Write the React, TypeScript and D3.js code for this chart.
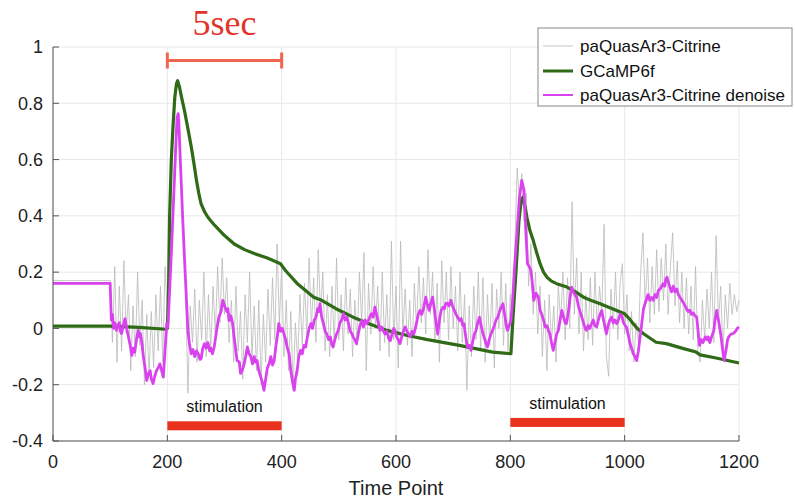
import React from "react";
import * as d3 from "d3";

const xTicks = [0, 200, 400, 600, 800, 1000, 1200];
const yTicks = [-0.4, -0.2, 0, 0.2, 0.4, 0.6, 0.8, 1];
const yTickLabels = ["-0.4", "-0.2", "0", "0.2", "0.4", "0.6", "0.8", "1"];

const legendNames = ["paQuasAr3-Citrine", "GCaMP6f", "paQuasAr3-Citrine denoise"];

// raw trace, one value every 4 time points from t = 0
const GRAY_STEP = 4;
const grayValues = [
  0.17, 0.17, 0.17, 0.17, 0.17, 0.17, 0.17, 0.17, 0.17, 0.17, 0.17, 0.17, 0.17, 0.17, 0.17, 0.17, 0.17, 0.17, 0.17, 0.17, 0.17, 0.17, 0.17, 0.17, 0.17,
  0.17, -0.05, 0.22, -0.12, 0.15, -0.08, 0.24, -0.02, 0.12, -0.15, 0.08, -0.1, 0.2, -0.06, 0.1, -0.2, 0.05, -0.17, 0.06, -0.14, 0.12, -0.08, 0.15, -0.12, 0.22,
  0.05, 0.3, 0.35, 0.55, 0.72, 0.7, 0.5, 0.32, 0.15, -0.23, 0.08, -0.05, 0.14, -0.12, 0.1, -0.04, 0.2, -0.1, 0.12, -0.08, 0.15, -0.02, 0.22, 0.02, 0.25,
  0.05, 0.18, -0.05, 0.1, -0.12, 0.15, -0.08, 0.06, -0.18, 0.12, -0.05, 0.2, -0.1, 0.08, -0.15, 0.1, -0.2, 0.05, -0.12, 0.14, -0.06, 0.18, -0.04, 0.3, 0.02,
  0.22, -0.1, 0.1, -0.15, 0.06, -0.22, 0.02, -0.12, 0.12, -0.06, 0.16, -0.02, 0.25, 0.0, 0.18, -0.05, 0.28, 0.05, 0.2, -0.08, 0.12, -0.1, 0.15, -0.06, 0.25,
  -0.04, 0.12, -0.08, 0.18, -0.02, 0.14, -0.1, 0.1, -0.06, 0.2, 0.02, 0.27, -0.15, 0.16, -0.02, 0.22, 0.0, 0.15, -0.08, 0.2, -0.05, 0.12, -0.1, 0.31, -0.04,
  0.15, -0.14, 0.31, -0.02, 0.14, -0.06, 0.1, -0.1, 0.16, 0.0, 0.22, 0.02, 0.18, -0.02, 0.28, 0.05, 0.2, -0.05, 0.16, -0.12, 0.24, 0.02, 0.2, -0.04, 0.22,
  0.0, 0.15, -0.08, 0.2, -0.05, 0.12, -0.22, 0.08, -0.1, 0.15, -0.04, 0.2, -0.08, 0.18, -0.12, 0.12, -0.06, 0.16, -0.14, 0.14, 0.0, 0.2, -0.06, 0.16, -0.08,
  0.12, 0.02, 0.3, 0.57, 0.45, 0.55, 0.38, 0.48, 0.15, 0.3, 0.05, 0.2, -0.02, 0.15, -0.1, 0.1, -0.15, 0.12, -0.05, 0.08, -0.12, 0.15, 0.02, 0.2, -0.04,
  0.18, 0.0, 0.45, 0.05, 0.25, -0.02, 0.2, -0.08, 0.12, -0.04, 0.18, -0.06, 0.2, 0.0, 0.15, 0.05, 0.37, -0.1, -0.17, 0.14, 0.0, 0.2, -0.04, 0.16, 0.23,
  -0.02, 0.12, -0.08, 0.06, -0.12, 0.02, -0.05, 0.2, 0.34, 0.08, 0.25, 0.02, 0.22, 0.05, 0.28, 0.06, 0.25, 0.1, 0.3, 0.05, 0.22, 0.34, 0.08, 0.24, 0.02,
  0.2, 0.0, 0.18, -0.02, 0.15, -0.04, 0.22, -0.08, -0.12, 0.1, -0.04, 0.14, 0.0, 0.2, -0.05, 0.33, 0.02, 0.15, -0.1, 0.12, 0.0, 0.16, 0.05, 0.12, 0.06, 0.1,
];

const gcampTrace: [number, number][] = [
  [0, 0.008], [100, 0.008], [150, 0.004], [198, -0.003], [200, 0.0], [202, 0.12], [204, 0.4], [207, 0.6],
  [210, 0.72], [213, 0.82], [216, 0.87], [218, 0.88], [221, 0.86], [225, 0.82], [230, 0.774], [236, 0.71],
  [242, 0.644], [247, 0.58], [251, 0.526], [255, 0.48], [259, 0.443], [265, 0.415], [271, 0.395], [277, 0.38],
  [283, 0.366], [300, 0.33], [317, 0.3], [335, 0.28], [352, 0.266], [375, 0.25], [398, 0.23], [407, 0.205],
  [427, 0.16], [456, 0.111], [470, 0.1], [495, 0.07], [525, 0.04], [555, 0.015], [584, -0.007], [620, -0.025],
  [655, -0.04], [711, -0.06], [769, -0.084], [801, -0.09], [805, 0.05], [810, 0.206], [815, 0.38], [819, 0.455],
  [822, 0.466], [826, 0.43], [829, 0.395], [834, 0.35], [840, 0.313], [846, 0.27], [852, 0.23], [858, 0.2],
  [864, 0.182], [872, 0.168], [881, 0.159], [899, 0.147], [914, 0.13], [928, 0.111], [943, 0.098], [957, 0.088],
  [972, 0.075], [986, 0.064], [1000, 0.052], [1008, 0.035], [1015, 0.017], [1022, 0.0], [1033, -0.019],
  [1055, -0.049], [1073, -0.054], [1100, -0.07], [1125, -0.084], [1132, -0.094], [1160, -0.105], [1200, -0.123],
];

const denoiseTrace: [number, number][] = [
  [0, 0.16], [100, 0.16], [102, 0.03], [104, 0.05], [106, 0.0], [108, 0.02], [111, -0.007], [113, 0.01],
  [116, 0.02], [118, -0.01], [120, -0.018], [123, 0.01], [126, 0.035], [129, 0.0], [132, -0.03], [135, -0.06],
  [138, -0.096], [140, -0.07], [143, -0.084], [146, -0.04], [149, -0.007], [151, -0.03], [153, -0.018],
  [156, -0.06], [158, -0.1], [161, -0.14], [164, -0.185], [167, -0.16], [170, -0.15], [172, -0.18], [175, -0.196],
  [178, -0.17], [181, -0.15], [184, -0.14], [187, -0.126], [190, -0.15], [193, -0.173], [196, -0.078],
  [199, 0.017], [201, 0.005], [207, 0.266], [213, 0.56], [217, 0.75], [219, 0.763], [220, 0.74], [223, 0.585],
  [227, 0.384], [231, 0.206], [236, -0.007], [239, -0.06], [242, -0.09], [245, -0.075], [248, -0.1], [251, -0.08],
  [254, -0.09], [257, -0.11], [259, -0.108], [262, -0.07], [265, -0.054], [268, -0.07], [271, -0.05], [274, -0.08],
  [276, -0.07], [279, -0.09], [282, -0.066], [286, -0.01], [290, 0.04], [294, 0.06], [297, 0.1], [299, 0.088],
  [302, 0.07], [304, 0.06], [306, 0.07], [308, 0.028], [311, 0.045], [314, 0.02], [318, -0.05], [322, -0.114],
  [326, -0.12], [328, -0.16], [331, -0.149], [334, -0.13], [337, -0.1], [340, -0.066], [343, -0.09], [346, -0.1],
  [349, -0.126], [352, -0.1], [354, -0.12], [357, -0.114], [360, -0.15], [363, -0.17], [366, -0.19], [369, -0.22],
  [372, -0.18], [375, -0.14], [378, -0.126], [381, -0.1], [384, -0.13], [387, -0.114], [390, -0.06], [393, -0.02],
  [395, 0.017], [398, -0.01], [401, 0.0], [404, -0.019], [407, -0.04], [410, -0.07], [413, -0.09], [416, -0.15],
  [419, -0.19], [422, -0.22], [424, -0.18], [427, -0.15], [430, -0.1], [433, -0.078], [436, -0.09], [439, -0.06],
  [442, -0.066], [445, -0.03], [448, 0.0], [451, 0.017], [454, 0.0], [457, 0.03], [460, 0.04], [463, 0.07],
  [465, 0.06], [467, 0.088], [470, 0.04], [473, 0.017], [476, -0.01], [479, -0.02], [482, -0.04], [485, -0.03],
  [488, -0.06], [490, -0.066], [493, -0.04], [496, -0.02], [499, -0.007], [502, 0.02], [505, 0.03], [508, 0.052],
  [511, 0.03], [514, 0.04], [517, 0.017], [520, -0.01], [523, -0.02], [525, -0.03], [528, -0.04], [531, -0.054],
  [534, -0.02], [537, 0.01], [540, 0.028], [543, 0.005], [546, 0.03], [549, 0.017], [552, 0.03], [555, 0.045],
  [557, 0.052], [560, 0.04], [563, 0.076], [566, 0.05], [569, 0.02], [572, -0.007], [575, 0.005], [578, -0.01],
  [581, -0.02], [584, -0.01], [587, -0.035], [590, -0.043], [593, -0.02], [596, 0.0], [598, -0.007], [601, -0.03],
  [604, -0.04], [607, -0.054], [610, -0.03], [613, -0.01], [616, 0.005], [619, -0.01], [622, -0.02], [625, -0.03],
  [628, -0.01], [631, -0.02], [633, -0.007], [636, 0.02], [639, 0.05], [642, 0.064], [645, 0.05], [648, 0.07],
  [652, 0.111], [655, 0.085], [658, 0.064], [661, 0.09], [664, 0.111], [667, 0.07], [670, 0.02], [673, -0.02],
  [676, 0.03], [679, 0.064], [682, 0.075], [685, 0.07], [687, 0.088], [690, 0.09], [693, 0.08], [696, 0.1],
  [699, 0.08], [702, 0.064], [705, 0.05], [708, 0.04], [711, 0.028], [714, 0.035], [717, 0.01], [719, 0.017],
  [722, -0.03], [725, -0.066], [728, -0.06], [731, -0.078], [734, -0.05], [737, -0.02], [740, -0.007], [743, 0.02],
  [746, 0.04], [749, 0.01], [751, -0.01], [754, -0.03], [757, -0.05], [760, -0.066], [763, -0.04], [766, -0.02],
  [769, -0.007], [772, 0.01], [775, 0.03], [778, 0.04], [781, 0.06], [784, 0.075], [787, 0.088], [790, 0.05],
  [793, 0.01], [795, -0.007], [798, 0.01], [801, 0.028], [804, 0.1], [807, 0.206], [812, 0.35], [816, 0.466],
  [820, 0.526], [824, 0.49], [827, 0.35], [830, 0.23], [833, 0.22], [836, 0.206], [838, 0.17], [841, 0.1],
  [845, 0.125], [849, 0.111], [852, 0.064], [855, 0.05], [858, 0.03], [861, 0.005], [864, 0.01], [867, -0.01],
  [869, -0.018], [872, -0.05], [875, -0.078], [878, -0.05], [881, -0.02], [884, -0.007], [887, 0.03], [890, 0.064],
  [893, 0.04], [896, 0.02], [898, 0.017], [901, 0.05], [904, 0.1], [907, 0.147], [910, 0.13], [913, 0.12],
  [916, 0.111], [919, 0.08], [922, 0.06], [925, 0.04], [928, 0.02], [931, 0.0], [933, -0.007], [936, 0.01],
  [939, 0.0], [942, 0.017], [945, 0.03], [948, 0.01], [951, 0.005], [954, 0.03], [957, 0.05], [960, 0.064],
  [963, 0.03], [966, 0.0], [968, -0.019], [971, 0.01], [974, 0.03], [977, 0.04], [980, 0.02], [983, 0.03],
  [986, 0.017], [989, 0.03], [992, 0.05], [995, 0.045], [998, 0.02], [1001, 0.01], [1003, 0.005], [1006, -0.02],
  [1009, -0.05], [1012, -0.07], [1015, -0.09], [1018, -0.1], [1021, -0.114], [1024, -0.08], [1027, -0.03],
  [1030, 0.02], [1033, 0.07], [1036, 0.09], [1039, 0.11], [1041, 0.12], [1044, 0.1], [1047, 0.11], [1050, 0.1],
  [1053, 0.12], [1056, 0.11], [1059, 0.135], [1062, 0.14], [1065, 0.15], [1067, 0.159], [1070, 0.15], [1072, 0.175],
  [1074, 0.182], [1077, 0.16], [1080, 0.14], [1082, 0.13], [1085, 0.15], [1088, 0.13], [1091, 0.14], [1094, 0.12],
  [1097, 0.11], [1100, 0.1], [1103, 0.09], [1106, 0.08], [1108, 0.07], [1111, 0.06], [1114, 0.065], [1117, 0.05],
  [1120, 0.055], [1123, 0.045], [1126, 0.04], [1128, 0.0], [1131, -0.06], [1134, -0.04], [1137, -0.05],
  [1141, -0.03], [1144, -0.04], [1146, -0.03], [1149, -0.05], [1152, -0.03], [1156, -0.007], [1158, 0.03],
  [1161, 0.064], [1164, 0.03], [1168, -0.02], [1171, -0.07], [1174, -0.114], [1177, -0.08], [1180, -0.04],
  [1182, -0.03], [1186, -0.02], [1190, -0.018], [1194, -0.01], [1197, 0.0], [1200, 0.005],
];

// stimulation periods: [start, end, bar level, label level]
const stimulations: [number, number, number, number][] = [
  [200, 400, -0.346, -0.298],
  [800, 1000, -0.334, -0.287],
];
const stimLabel = "stimulation";
const scaleBar = { start: 200, end: 400, level: 0.952, label: "5sec" };

const FONT = "'Liberation Sans', Arial, Helvetica, sans-serif";

export default function App() {
  const x = d3.scaleLinear().domain([0, 1200]).range([53, 739]);
  const y = d3.scaleLinear().domain([-0.4, 1]).range([441, 47]);

  const grayData: [number, number][] = grayValues.map((v, i) => [i * GRAY_STEP, v]);
  const line = d3
    .line<[number, number]>()
    .x((d) => x(d[0]))
    .y((d) => y(d[1]));

  const colors = { gray: "#b9b9b9", green: "#2f6a17", magenta: "#da42f0" };

  const legendX = 538;
  const legendY = 28;
  const legendRows = [46, 71, 95];
  const legendColors = [colors.gray, colors.green, colors.magenta];
  const legendWidths = [0.8, 3, 2];

  return (
    <svg
      width={795}
      height={502}
      style={{ position: "absolute", left: 0, top: 0, background: "#fff" }}
    >
      {/* grid */}
      <g>
        {xTicks.map((t) => (
          <line key={"gx" + t} x1={x(t)} x2={x(t)} y1={y(1)} y2={y(-0.4)} stroke="#e8e8e8" strokeWidth={1} />
        ))}
        {yTicks.map((t) => (
          <line key={"gy" + t} x1={x(0)} x2={x(1200)} y1={y(t)} y2={y(t)} stroke="#e8e8e8" strokeWidth={1} />
        ))}
      </g>

      {/* traces */}
      <path d={line(grayData) || ""} fill="none" stroke={colors.gray} strokeWidth={0.8} strokeLinejoin="round" />
      <path d={line(gcampTrace) || ""} fill="none" stroke={colors.green} strokeWidth={3.2} strokeLinejoin="round" />
      <path d={line(denoiseTrace) || ""} fill="none" stroke={colors.magenta} strokeWidth={2.8} strokeLinejoin="round" />

      {/* axes */}
      <line x1={x(0)} x2={x(0)} y1={y(1)} y2={y(-0.4)} stroke="#555" strokeWidth={1} />
      <line x1={x(0)} x2={x(1200)} y1={y(-0.4)} y2={y(-0.4)} stroke="#555" strokeWidth={1} />
      {yTicks.map((t, i) => (
        <g key={"yt" + t}>
          <line x1={x(0)} x2={x(0) + 6} y1={y(t)} y2={y(t)} stroke="#555" />
          <text x={x(0) - 10} y={y(t)} dy="0.35em" textAnchor="end" fontFamily={FONT} fontSize={18} fill="#222">
            {yTickLabels[i]}
          </text>
        </g>
      ))}
      {xTicks.map((t) => (
        <g key={"xt" + t}>
          <line x1={x(t)} x2={x(t)} y1={y(-0.4)} y2={y(-0.4) - 6} stroke="#555" />
          <text x={x(t)} y={y(-0.4) + 27} textAnchor="middle" fontFamily={FONT} fontSize={18} fill="#222">
            {t}
          </text>
        </g>
      ))}
      <text x={x(600)} y={495} textAnchor="middle" fontFamily={FONT} fontSize={20} fill="#222">
        Time Point
      </text>

      {/* stimulation bars */}
      {stimulations.map(([s, e, lvl, lab], i) => (
        <g key={"st" + i}>
          <rect x={x(s)} width={x(e) - x(s)} y={y(lvl) - 4.5} height={9} fill="#e8321e" />
          <text x={x((s + e) / 2)} y={y(lab)} textAnchor="middle" fontFamily={FONT} fontSize={16} fill="#111">
            {stimLabel}
          </text>
        </g>
      ))}

      {/* scale bar */}
      <g stroke="#f0654f" strokeWidth={3}>
        <line x1={x(scaleBar.start)} x2={x(scaleBar.end)} y1={y(scaleBar.level)} y2={y(scaleBar.level)} />
        <line x1={x(scaleBar.start)} x2={x(scaleBar.start)} y1={y(scaleBar.level) - 8} y2={y(scaleBar.level) + 8} />
        <line x1={x(scaleBar.end)} x2={x(scaleBar.end)} y1={y(scaleBar.level) - 8} y2={y(scaleBar.level) + 8} />
      </g>
      <text
        x={x((scaleBar.start + scaleBar.end) / 2)}
        y={35}
        textAnchor="middle"
        fontFamily="'Liberation Serif', 'Times New Roman', serif"
        fontSize={36}
        fill="#e2342a"
      >
        {scaleBar.label}
      </text>

      {/* legend */}
      <rect x={legendX} y={legendY} width={254} height={78} fill="#fff" stroke="#888" strokeWidth={1} />
      {legendNames.map((name, i) => (
        <g key={"lg" + i}>
          <line
            x1={legendX + 5}
            x2={legendX + 35}
            y1={legendRows[i]}
            y2={legendRows[i]}
            stroke={legendColors[i]}
            strokeWidth={legendWidths[i]}
          />
          <text x={legendX + 42} y={legendRows[i]} dy="0.35em" fontFamily={FONT} fontSize={17} fill="#111">
            {name}
          </text>
        </g>
      ))}
    </svg>
  );
}
